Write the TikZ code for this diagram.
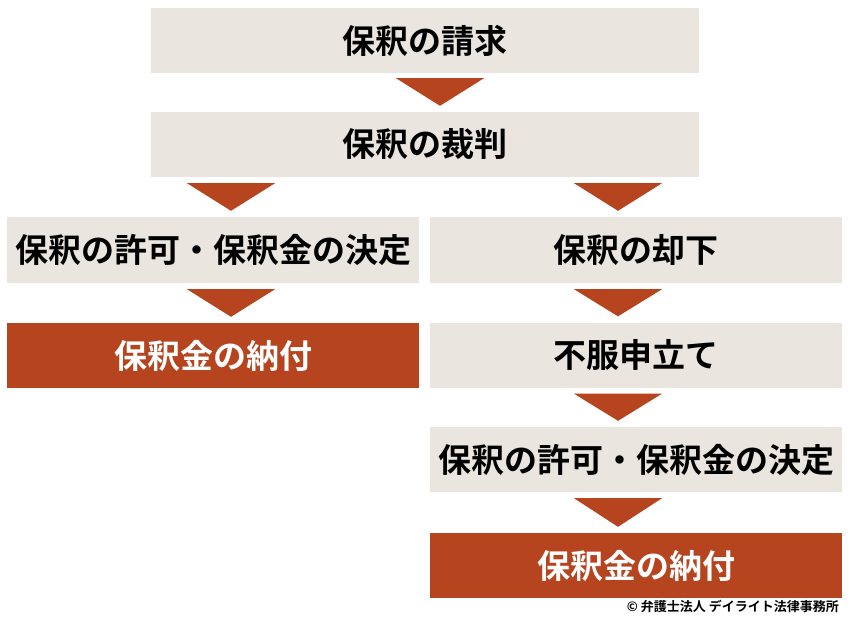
\documentclass[tikz,border=0pt]{standalone}
\usepackage{fontspec}
\newfontfamily\jpb{Noto Sans CJK JP Bold}
\definecolor{boxbg}{HTML}{EAE5DF}
\definecolor{accent}{HTML}{B5441F}
\begin{document}
\begin{tikzpicture}[x=1pt,y=-1pt,
  stepbox/.style={fill=boxbg,draw=none,inner sep=0pt,font=\jpb\fontsize{33}{36}\selectfont,text=black},
  paybox/.style={fill=accent,draw=none,inner sep=0pt,font=\jpb\fontsize{33}{36}\selectfont,text=white},
  tri/.style={fill=accent,draw=none}]
\fill[white] (0,0) rectangle (850,622);
\useasboundingbox (0,0) rectangle (850,622);
% boxes
\node[stepbox,minimum width=548pt,minimum height=65pt] (req) at (425,40.5) {保釈の請求};
\node[stepbox,minimum width=548pt,minimum height=65pt] (trial) at (425,144.5) {保釈の裁判};
\node[stepbox,minimum width=412pt,minimum height=66pt] (grantL) at (213,250) {保釈の許可・保釈金の決定};
\node[stepbox,minimum width=412pt,minimum height=66pt] (reject) at (636,250) {保釈の却下};
\node[paybox,minimum width=412pt,minimum height=65pt] (payL) at (213,355.5) {保釈金の納付};
\node[stepbox,minimum width=412pt,minimum height=65pt] (appeal) at (636,355) {不服申立て};
\node[stepbox,minimum width=412pt,minimum height=65pt] (grantR) at (636,459.5) {保釈の許可・保釈金の決定};
\node[paybox,minimum width=412pt,minimum height=65pt] (payR) at (636,565.5) {保釈金の納付};
% arrows (triangles)
\fill[tri] ([xshift=-29pt,yshift=-5pt]req.south) -- ([xshift=59pt,yshift=-5pt]req.south) -- ([xshift=15pt,yshift=6pt]trial.north) -- cycle;
\fill[tri] ([xshift=-26pt,yshift=-6pt]trial.south -| grantL.north) -- ([xshift=62pt,yshift=-6pt]trial.south -| grantL.north) -- ([xshift=18pt,yshift=6pt]grantL.north) -- cycle;
\fill[tri] ([xshift=-62pt,yshift=-6pt]trial.south -| reject.north) -- ([xshift=26pt,yshift=-6pt]trial.south -| reject.north) -- ([xshift=-18pt,yshift=6pt]reject.north) -- cycle;
\fill[tri] ([xshift=-26pt,yshift=-6pt]grantL.south) -- ([xshift=62pt,yshift=-6pt]grantL.south) -- ([xshift=18pt,yshift=6pt]payL.north) -- cycle;
\fill[tri] ([xshift=-62pt,yshift=-6pt]reject.south) -- ([xshift=26pt,yshift=-6pt]reject.south) -- ([xshift=-18pt,yshift=6pt]appeal.north) -- cycle;
\fill[tri] ([xshift=-62pt,yshift=-6pt]appeal.south) -- ([xshift=26pt,yshift=-6pt]appeal.south) -- ([xshift=-18pt,yshift=6pt]grantR.north) -- cycle;
\fill[tri] ([xshift=-62pt,yshift=-6pt]grantR.south) -- ([xshift=26pt,yshift=-6pt]grantR.south) -- ([xshift=-18pt,yshift=6pt]payR.north) -- cycle;
% copyright
\node[anchor=north east,inner sep=0pt,font=\jpb\fontsize{13}{15}\selectfont] (copy) at (839,600) {© 弁護士法人 デイライト法律事務所};
\end{tikzpicture}
\end{document}
